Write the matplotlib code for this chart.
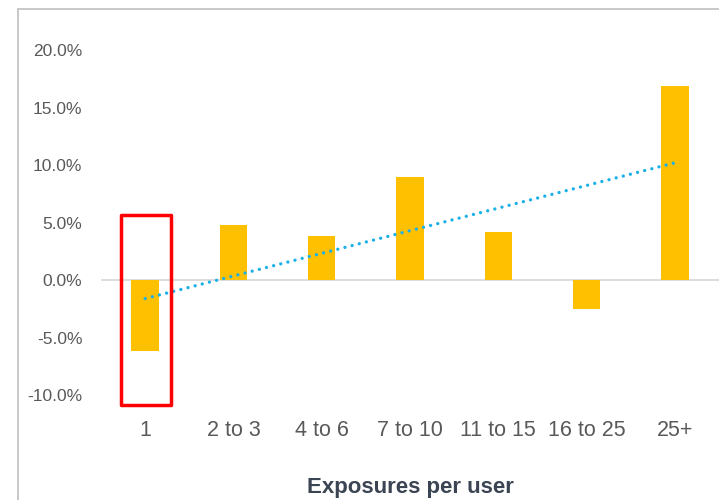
import matplotlib.pyplot as plt
import numpy as np
from matplotlib.patches import Rectangle
from matplotlib.ticker import FuncFormatter

plt.rcParams['font.family'] = ['Liberation Sans', 'DejaVu Sans']

# 每个用户的曝光次数分组及对应的提升幅度（%）
categories = ['1', '2 to 3', '4 to 6', '7 to 10', '11 to 15', '16 to 25', '25+']
lift = [-6.2, 4.8, 3.8, 9.0, 4.2, -2.5, 16.9]
y_ticks = [-10, -5, 0, 5, 10, 15, 20]

x = np.arange(len(categories))

fig = plt.figure(figsize=(7.19, 5), dpi=100)
ax = fig.add_axes([101 / 719, 0.21, 1 - 101 / 719, 0.69])

# 外框
fig.patches.append(Rectangle((18 / 719, -0.5), 2, 1.5 - 9 / 500,
                             transform=fig.transFigure, fill=False,
                             edgecolor='#bfbfbf', linewidth=1.2))

# 柱子
ax.bar(x, lift, width=0.31, color='#FFC000', zorder=3)
ax.axhline(0, color='#d9d9d9', linewidth=1.3, zorder=2)

# 线性趋势线（圆点虚线）
k, b = np.polyfit(x, lift, 1)
ax.plot(x, k * x + b, color='#1AB0E8', linestyle=(0, (0.01, 2.2)),
        dash_capstyle='round', linewidth=2.4, zorder=4)

# 突出第一组
ax.add_patch(Rectangle((-0.27, -10.87), 0.56, 16.52, fill=False,
                       edgecolor='#FF0000', linewidth=2.5,
                       joinstyle='round', clip_on=False, zorder=5))

ax.set_xlim(-0.5, len(categories) - 0.5)
ax.set_ylim(-10, 20)
ax.set_yticks(y_ticks)
ax.yaxis.set_major_formatter(FuncFormatter(lambda v, _: f'{v:.1f}%'))
ax.set_xticks(x)
ax.set_xticklabels(categories)
ax.tick_params(axis='y', length=0, pad=13.5, labelsize=12.5, labelcolor='#595959')
ax.tick_params(axis='x', length=0, pad=18, labelsize=15.5, labelcolor='#595959')
for s in ax.spines.values():
    s.set_visible(False)

fig.text(410 / 719, 1 - 487 / 500, 'Exposures per user', ha='center', va='center',
         fontsize=16, fontweight='bold', color='#3a4452')

plt.savefig('out.png', dpi=100)
